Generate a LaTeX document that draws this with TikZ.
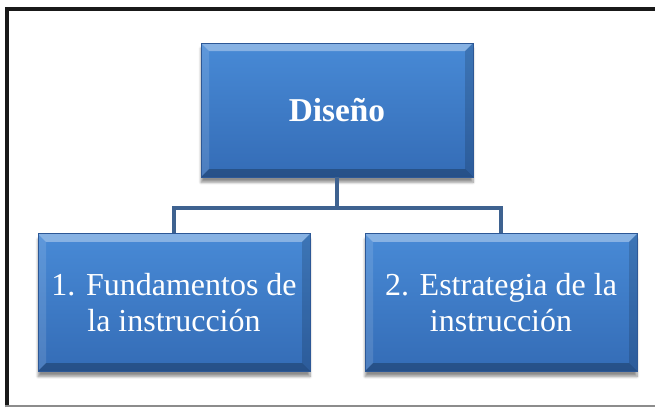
\documentclass[tikz,border=0pt]{standalone}
\usepackage{fontspec}
\setmainfont{Liberation Serif}
\usepackage{xcolor}
\usepackage{tikz}
\definecolor{cajaazul}{RGB}{60, 122, 198}
\definecolor{cajaclaro}{RGB}{72, 138, 214}
\definecolor{cajaoscuro}{RGB}{52, 108, 182}
\definecolor{bordeazul}{RGB}{45, 88, 150}
\definecolor{lineaazul}{RGB}{62, 98, 144}
\usetikzlibrary{shapes, positioning, shadows.blur, calc}

\begin{document}
\begin{tikzpicture}[
    x=0.75pt, y=-0.75pt,
    bloque/.style={rectangle, draw=bordeazul, line width=0.6pt, top color=cajaclaro, bottom color=cajaoscuro, minimum width=204pt, minimum height=103pt, inner sep=0pt, align=center, text=white, font=\fontsize{24}{27}\selectfont,
        blur shadow={shadow xshift=0pt, shadow yshift=-4pt, shadow blur steps=8, shadow opacity=45},
        path picture={
            \fill[white, opacity=0.35] (path picture bounding box.north west) -- (path picture bounding box.north east) -- ([xshift=-6pt, yshift=-6pt]path picture bounding box.north east) -- ([xshift=6pt, yshift=-6pt]path picture bounding box.north west) -- cycle;
            \fill[white, opacity=0.12] (path picture bounding box.north west) -- ([xshift=6pt, yshift=-6pt]path picture bounding box.north west) -- ([xshift=6pt, yshift=6pt]path picture bounding box.south west) -- (path picture bounding box.south west) -- cycle;
            \fill[black, opacity=0.25] (path picture bounding box.south west) -- (path picture bounding box.south east) -- ([xshift=-6pt, yshift=6pt]path picture bounding box.south east) -- ([xshift=6pt, yshift=6pt]path picture bounding box.south west) -- cycle;
            \fill[black, opacity=0.15] (path picture bounding box.north east) -- ([xshift=-6pt, yshift=-6pt]path picture bounding box.north east) -- ([xshift=-6pt, yshift=6pt]path picture bounding box.south east) -- (path picture bounding box.south east) -- cycle;
        }},
    conector/.style={draw=lineaazul, line width=3pt}
]
    \useasboundingbox (0,0) rectangle (655,407);

    \draw[black!90, line width=3pt] (7,407) -- (7,9) -- (655,9);
    \draw[black!45, line width=1pt] (5,406) -- (655,406);

    \node[bloque, minimum height=100.5pt, font=\fontsize{25}{27}\selectfont\bfseries] (diseno) at (337, 110) {Diseño};
    \node[bloque] (fund) at (174, 302.5) {1. Fundamentos de\\la instrucción};
    \node[bloque] (estr) at (501, 302.5) {2. Estrategia de la\\instrucción};

    \draw[conector] (diseno.south) -- ++(0,31) coordinate (barra);
    \draw[conector] (fund.north) |- (barra) -| (estr.north);
\end{tikzpicture}
\end{document}
